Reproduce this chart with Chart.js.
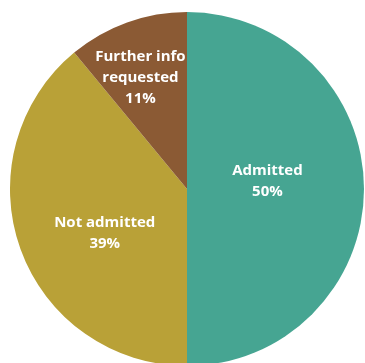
<!DOCTYPE html>
<html>
<head>
<meta charset="utf-8">
<script src="https://cdn.jsdelivr.net/npm/chart.js@4.4.1/dist/chart.umd.min.js"></script>
<style>
  html, body { margin: 0; padding: 0; background: #fff; overflow: hidden; }
  body { width: 365px; height: 363px; position: relative; }
  #wrap { position: absolute; left: 10px; top: 12px; width: 354px; height: 354px; }
</style>
</head>
<body>
<div id="wrap"><canvas id="pieChart"></canvas></div>
<script>
const categories = ["Admitted", "Not admitted", "Further info requested"];
const shares = [50, 39, 11];
const labelLines = [["Admitted"], ["Not admitted"], ["Further info", "requested"]];
const colors = ["#46a592", "#b9a137", "#8b5a34"];

// how far out along each slice the label sits, plus a small nudge
const labelPlace = [
  { f: 0.46, dx: -1, dy: -8 },
  { f: 0.50, dx: 1, dy: 14 },
  { f: 0.66, dx: -7, dy: -1 },
];

const sliceLabels = {
  id: "sliceLabels",
  afterDatasetsDraw(chart) {
    const ctx = chart.ctx;
    const meta = chart.getDatasetMeta(0);
    ctx.save();
    ctx.fillStyle = "#ffffff";
    ctx.font = "bold 15px 'Open Sans', sans-serif";
    ctx.textAlign = "center";
    ctx.textBaseline = "middle";
    meta.data.forEach((arc, i) => {
      const p = arc.getProps(["x", "y", "startAngle", "endAngle", "outerRadius"], true);
      const mid = (p.startAngle + p.endAngle) / 2;
      const r = p.outerRadius * labelPlace[i].f;
      const cx = p.x + Math.cos(mid) * r + labelPlace[i].dx;
      const cy = p.y + Math.sin(mid) * r + labelPlace[i].dy;
      const lines = labelLines[i].concat([shares[i] + "%"]);
      const lh = 21;
      const top = cy - ((lines.length - 1) * lh) / 2;
      lines.forEach((t, k) => ctx.fillText(t, cx, top + k * lh));
    });
    ctx.restore();
  },
};

new Chart(document.getElementById("pieChart").getContext("2d"), {
  type: "pie",
  data: {
    labels: categories,
    datasets: [
      {
        data: shares,
        backgroundColor: colors,
        borderWidth: 0,
      },
    ],
  },
  options: {
    responsive: true,
    maintainAspectRatio: false,
    animation: false,
    layout: { padding: 0 },
    plugins: {
      legend: { display: false },
      tooltip: { enabled: false },
    },
  },
  plugins: [sliceLabels],
});
</script>
</body>
</html>
